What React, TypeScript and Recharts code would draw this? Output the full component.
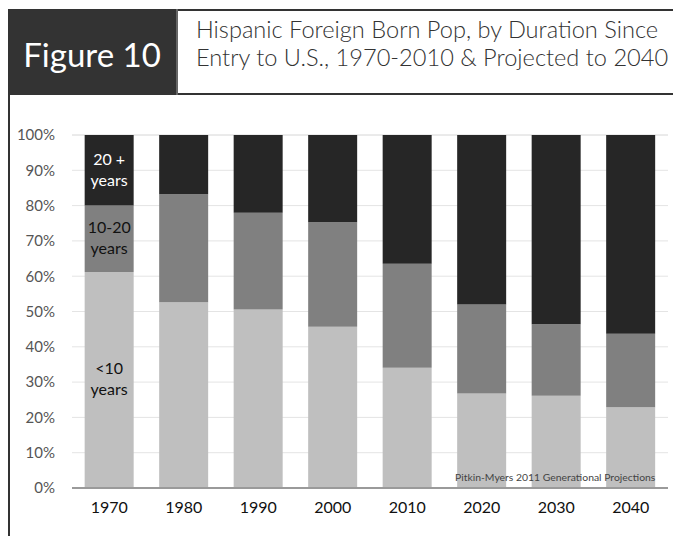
import React from 'react';
import { BarChart, Bar, XAxis, YAxis, CartesianGrid } from 'recharts';

const years = ['1970', '1980', '1990', '2000', '2010', '2020', '2030', '2040'];
const under10 = [61.2, 52.6, 50.6, 45.7, 34.1, 26.8, 26.1, 22.9];
const tenTo20 = [18.8, 30.6, 27.4, 29.6, 29.4, 25.2, 20.3, 20.8];
const over20 = [20.0, 16.8, 22.0, 24.7, 36.5, 48.0, 53.6, 56.3];
const yTicks = [0, 10, 20, 30, 40, 50, 60, 70, 80, 90, 100];

const FONT = 'Lato, "DejaVu Sans", sans-serif';

const data = years.map((year, i) => ({
    year,
    under10: under10[i],
    tenTo20: tenTo20[i],
    over20: over20[i],
}));

// only the first column carries the in-bar labels
const makeLabel = (lines: string[], color: string) => (props: any) => {
    const { x, y, width, height, index } = props;
    if (index !== 0) return null;
    const cx = Number(x) + Number(width) / 2;
    const cy = Number(y) + Number(height) / 2;
    return (
        <text x={cx} y={cy} textAnchor="middle" fill={color} fontSize={16} fontFamily={FONT}>
            <tspan x={cx} dy="-0.35em">{lines[0]}</tspan>
            <tspan x={cx} dy="1.3em">{lines[1]}</tspan>
        </text>
    );
};

export default function App() {
    return (
        <div style={{ position: 'absolute', left: 0, top: 0, width: 673, height: 536, background: '#fff', fontFamily: FONT, overflow: 'hidden' }}>
            {/* header */}
            <div style={{ position: 'absolute', left: 8, top: 9, width: 170, height: 86, background: '#333', color: '#fff', fontSize: 33, display: 'flex', alignItems: 'center', justifyContent: 'center', paddingTop: 3, borderRight: '2px solid #666', boxSizing: 'border-box' }}>
                Figure 10
            </div>
            <div style={{ position: 'absolute', left: 178, top: 9, width: 495, height: 86, borderTop: '2px solid #333', borderBottom: '2px solid #333', boxSizing: 'border-box', color: '#333', fontSize: 23.6, lineHeight: '28px', paddingLeft: 18, paddingTop: 4, fontWeight: 300, whiteSpace: 'nowrap' }}>
                Hispanic Foreign Born Pop, by Duration Since<br />
                Entry to U.S., 1970-2010 &amp; Projected to 2040
            </div>
            <div style={{ position: 'absolute', left: 8, top: 95, width: 2, height: 441, background: '#333' }} />

            <div style={{ position: 'absolute', left: 0, top: 0 }}>
                <BarChart width={673} height={536} data={data} margin={{ top: 135, right: 5, left: 12, bottom: 18 }} barCategoryGap="17%">
                    <CartesianGrid vertical={false} stroke="#e4e4e4" />
                    <XAxis
                        dataKey="year"
                        height={30}
                        tickLine={false}
                        tickSize={0}
                        tickMargin={14}
                        axisLine={{ stroke: '#9a9a9a', strokeWidth: 2 }}
                        tick={{ fill: '#111', fontSize: 16, fontFamily: FONT }}
                    />
                    <YAxis
                        width={60}
                        domain={[0, 100]}
                        ticks={yTicks}
                        tickFormatter={(v) => `${v}%`}
                        axisLine={false}
                        tickLine={false}
                        tickSize={0}
                        tickMargin={17}
                        tick={{ fill: '#555', fontSize: 15, fontFamily: FONT }}
                    />
                    <Bar dataKey="under10" stackId="a" fill="#bfbfbf" isAnimationActive={false} label={makeLabel(['<10', 'years'], '#111')} />
                    <Bar dataKey="tenTo20" stackId="a" fill="#808080" isAnimationActive={false} label={makeLabel(['10-20', 'years'], '#111')} />
                    <Bar dataKey="over20" stackId="a" fill="#262626" isAnimationActive={false} label={makeLabel(['20 +', 'years'], '#fff')} />
                </BarChart>
            </div>

            <div style={{ position: 'absolute', left: 455, top: 471, fontSize: 10.4, color: '#444', whiteSpace: 'nowrap' }}>
                Pitkin-Myers 2011 Generational Projections
            </div>
        </div>
    );
}
